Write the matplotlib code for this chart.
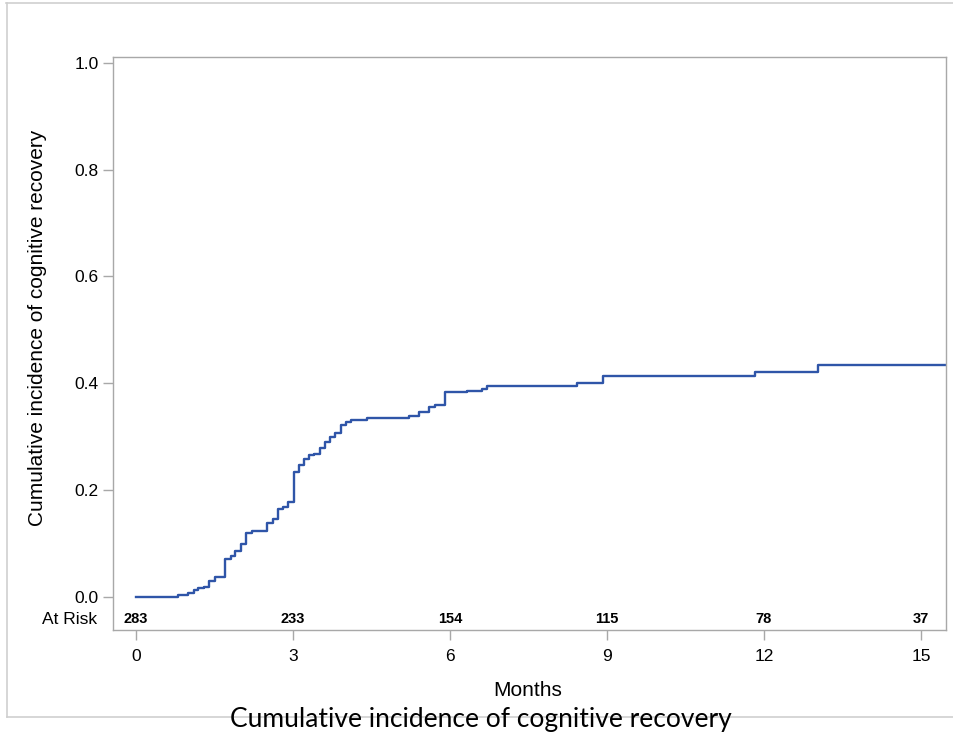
import numpy as np
import matplotlib
matplotlib.use("Agg")
import matplotlib.pyplot as plt
from matplotlib.lines import Line2D

# ====== DATA ======
# step times (months) and cumulative incidence after each step
months = [0.0, 0.81, 1.00, 1.10, 1.19, 1.30, 1.40, 1.50, 1.71, 1.81, 1.90,
          2.01, 2.10, 2.21, 2.50, 2.61, 2.71, 2.80, 2.90, 3.01, 3.11, 3.21,
          3.31, 3.41, 3.51, 3.61, 3.71, 3.81, 3.91, 4.01, 4.11, 4.41, 5.21,
          5.41, 5.60, 5.71, 5.91, 6.32, 6.62, 6.71, 8.42, 8.92, 11.83, 13.03,
          15.5]
incidence = [0.0, 0.003, 0.008, 0.012, 0.016, 0.018, 0.029, 0.038, 0.071,
             0.077, 0.085, 0.099, 0.120, 0.124, 0.138, 0.146, 0.165, 0.169,
             0.177, 0.233, 0.247, 0.258, 0.265, 0.268, 0.279, 0.290, 0.300,
             0.307, 0.321, 0.328, 0.332, 0.335, 0.339, 0.347, 0.355, 0.359,
             0.383, 0.386, 0.390, 0.394, 0.400, 0.414, 0.421, 0.434, 0.434]

risk_months = [0, 3, 6, 9, 12, 15]
at_risk = [283, 233, 154, 115, 78, 37]

y_ticks = [0.0, 0.2, 0.4, 0.6, 0.8, 1.0]

# ====== FIGURE ======
W, H = 954, 734
fig = plt.figure(figsize=(W / 100, H / 100), dpi=100)
ax = fig.add_axes([113 / W, 1 - 630 / H, (946 - 113) / W, (630 - 57) / H])

line_color = "#2F55A8"
ax.step(months, incidence, where="post", color=line_color, linewidth=1.7)

ax.set_xlim(-0.44, 15.48)
ax.set_ylim(-0.062, 1.011)
ax.set_xticks(risk_months)
ax.set_yticks(y_ticks)
ax.set_yticklabels([f"{v:.1f}" for v in y_ticks])

frame_gray = "#a8a8a8"
for s in ax.spines.values():
    s.set_color(frame_gray)
    s.set_linewidth(1.0)
ax.tick_params(axis="both", colors=frame_gray, labelcolor="black",
               labelsize=12.5, length=7, width=1.0)
ax.tick_params(axis="x", pad=7)
for lab in ax.get_xticklabels() + ax.get_yticklabels():
    lab.set_family("Liberation Sans")

ax.set_xlabel("Months", fontsize=15, family="Liberation Sans")
ax.xaxis.set_label_coords(0.498, -0.089)
ax.set_ylabel("Cumulative incidence of cognitive recovery", fontsize=15,
              family="Liberation Sans")
ax.yaxis.set_label_coords(-0.079, 0.527)

# at-risk row inside the plot
for m, n in zip(risk_months, at_risk):
    ax.text(m, -0.042, str(n), ha="center", va="center", fontsize=10.5,
            fontweight="bold", family="Liberation Sans")
fig.text(97 / W, 1 - 619 / H, "At Risk", ha="right", va="center",
         fontsize=12.5, family="Liberation Sans")

# outer slide frame
border = "#cfcfcf"
fig.add_artist(Line2D([6 / W, 1.0], [1 - 2.5 / H, 1 - 2.5 / H],
                      transform=fig.transFigure, color=border, lw=1.2))
fig.add_artist(Line2D([7 / W, 7 / W], [1 - 2.5 / H, 1 - 717 / H],
                      transform=fig.transFigure, color=border, lw=1.2))
fig.add_artist(Line2D([7 / W, 1.0], [1 - 717 / H, 1 - 717 / H],
                      transform=fig.transFigure, color=border, lw=1.2))

fig.text(481 / W, 1 - 720 / H, "Cumulative incidence of cognitive recovery",
         ha="center", va="center", fontsize=19, family="Lato")

fig.savefig("out.png", dpi=100, facecolor="white")
